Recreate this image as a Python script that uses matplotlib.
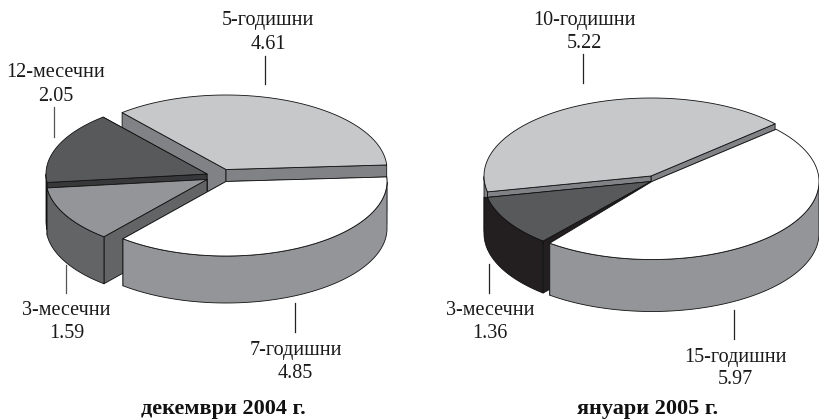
import numpy as np
import matplotlib.pyplot as plt
from matplotlib.patches import Polygon

plt.rcParams['font.family'] = ['Liberation Serif', 'DejaVu Serif']

# Data, in clockwise drawing order starting with the white slice
labels_2004 = ['7-годишни', '3-месечни', '12-месечни', '5-годишни']
values_2004 = [4.85, 1.59, 2.05, 4.61]
labels_2005 = ['15-годишни', '3-месечни', '10-годишни']
values_2005 = [5.97, 1.36, 5.22]
title_2004 = 'декември 2004 г.'
title_2005 = 'януари 2005 г.'

# Top colour and wall colour of each slice
tops_2004 = ['#ffffff', '#939598', '#58595b', '#c7c8ca']
walls_2004 = ['#939598', '#636466', '#38383a', '#808285']
tops_2005 = ['#ffffff', '#58595b', '#c7c8ca']
walls_2005 = ['#939598', '#231f20', '#808285']


def draw_pie(ax, values, tops, walls, centers, order, start, rx, ry, depth, nudge=None, rim_to=None):
    nudge = nudge or {}
    rim_to = rim_to or {}
    angles = start - np.cumsum([0] + list(values)) / sum(values) * 360
    for i in order:
        cx, cy = centers[i]
        a0, a1 = nudge.get(i, (0, 0))
        t = np.radians(np.linspace(angles[i] + a0, angles[i + 1] + a1, 200))
        px = cx + rx * np.cos(t)
        py = cy - ry * np.sin(t)
        style = dict(edgecolor='#111111', linewidth=0.6, joinstyle='round')
        # flat side walls first, back one before front one, then rim and top
        for k in sorted((0, -1), key=lambda k: -np.sin(t[k])):
            wall = [(cx, cy), (px[k], py[k]), (px[k], py[k] + depth), (cx, cy + depth)]
            ax.add_patch(Polygon(wall, facecolor=walls[i], **style))
        front = np.sin(t) <= 0
        if front.any():
            fx, fy = px[front], py[front]
            low = fy + depth
            if i in rim_to:
                # the rim reaches a bit further round than the top does
                extra = np.radians(np.linspace(np.degrees(t[-1]), rim_to[i], 30))
                fx = np.r_[fx, cx + rx * np.cos(extra)]
                fy = np.r_[fy, np.full(30, py[-1])]
                low = np.r_[low, cy - ry * np.sin(extra) + depth]
            rim = np.column_stack([np.r_[fx, fx[::-1]], np.r_[fy, low[::-1]]])
            ax.add_patch(Polygon(rim, facecolor=walls[i], **style))
        top = np.column_stack([np.r_[cx, px], np.r_[cy, py]])
        ax.add_patch(Polygon(top, facecolor=tops[i], **style))


def note(ax, label, value, x, base, gap, line_x, line_top, line_bottom, color='#222222'):
    ax.text(x, base, label, ha='center', va='baseline', fontsize=14.5, color='#1a1a1a')
    ax.text(x, base + gap, f'{value:.2f}', ha='center', va='baseline', fontsize=14.5, color='#1a1a1a')
    ax.plot([line_x, line_x], [line_top, line_bottom], color=color, linewidth=0.9)


fig = plt.figure(figsize=(8.19, 4.19), dpi=100)
ax = fig.add_axes([0, 0, 1, 1])
ax.set_xlim(0, 819)
ax.set_ylim(419, 0)
ax.axis('off')

draw_pie(ax, values_2004, tops_2004, walls_2004,
         [(226, 181.5), (207, 179.5), (207, 174), (226, 169.5)],
         [3, 2, 1, 0], 3.5, 161, 74.5, 47)
draw_pie(ax, values_2005, tops_2005, walls_2005,
         [(652, 181.5), (651, 181.5), (651, 176)],
         [2, 1, 0], 42, 167, 78, 52,
         nudge={0: (0, 1.5), 1: (-1, 0)}, rim_to={1: -180})

note(ax, labels_2004[3], values_2004[3], 268, 25, 24, 265, 56, 84)
note(ax, labels_2004[2], values_2004[2], 56, 77, 23.5, 53.7, 107, 137, '#555555')
note(ax, labels_2004[1], values_2004[1], 66.7, 315, 23, 66, 265, 293, '#555555')
note(ax, labels_2004[0], values_2004[0], 295.5, 355, 22.5, 294.5, 303, 331.5)
note(ax, labels_2005[2], values_2005[2], 584.5, 24.5, 23.5, 583.3, 54, 83)
note(ax, labels_2005[1], values_2005[1], 490, 315, 23, 489.3, 264, 293)
note(ax, labels_2005[0], values_2005[0], 735.5, 361.5, 22.5, 733.7, 310, 339)

ax.text(223, 414, title_2004, ha='center', va='baseline', fontsize=16, fontweight='bold', color='#111111')
ax.text(648, 414, title_2005, ha='center', va='baseline', fontsize=16, fontweight='bold', color='#111111')

fig.savefig('out.png', dpi=100)
